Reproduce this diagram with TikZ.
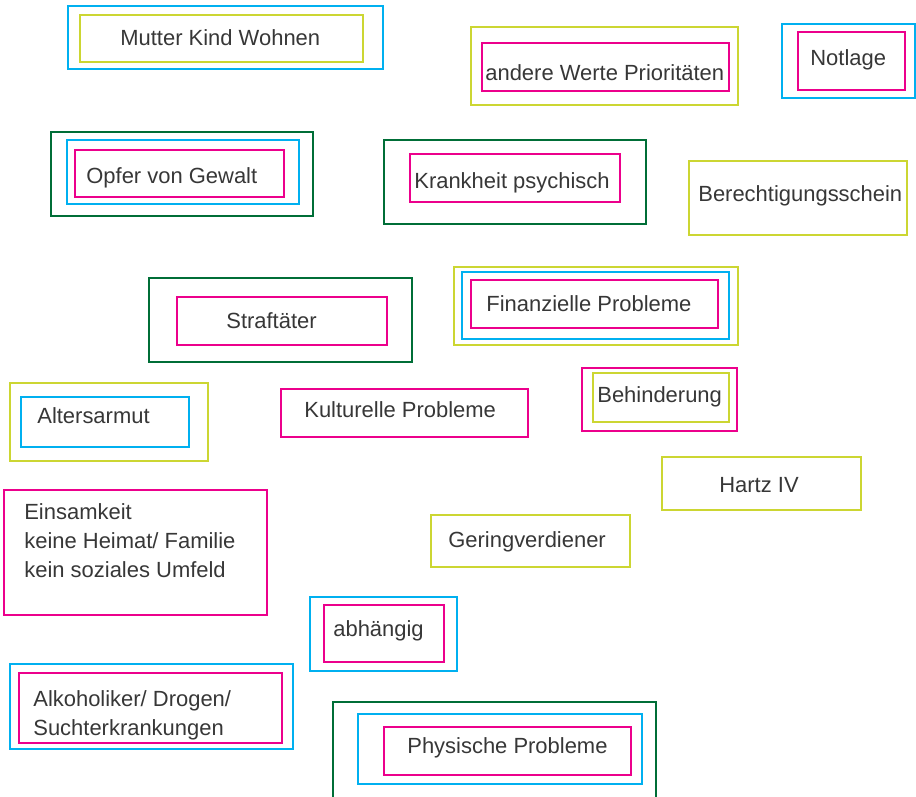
\documentclass[tikz,border=0pt]{standalone}
\usepackage{fontspec}
\setmainfont{Liberation Sans}
\definecolor{cyanline}{RGB}{0,176,240}
\definecolor{limeline}{RGB}{204,214,50}
\definecolor{pinkline}{RGB}{236,0,140}
\definecolor{greenline}{RGB}{0,110,55}
\definecolor{textgray}{RGB}{55,55,55}

\begin{document}
\begin{tikzpicture}[x=0.02cm,y=-0.02cm,
    box/.style={line width=1.1pt},
    lbl/.style={anchor=base west,inner sep=0pt,text=textgray,align=left,
      font=\fontsize{12.5}{16.3}\selectfont}]
  \useasboundingbox (0,0) rectangle (916,796);
  % frames, one loop per colour
  \foreach \xa/\ya/\xb/\yb in {68/6/383/69,67/140/299/204,782/24/915/98,462/272/729/339,
      21/397/189/447,310/597/457/671,10/664/293/749,358/714/642/784}{
    \draw[box,cyanline] (\xa,\ya) rectangle (\xb,\yb);
  }
  \foreach \xa/\ya/\xb/\yb in {80/15/363/62,471/27/738/105,689/161/907/235,454/267/738/345,
      10/383/208/461,593/373/729/422,662/457/861/510,431/515/630/567}{
    \draw[box,limeline] (\xa,\ya) rectangle (\xb,\yb);
  }
  \foreach \xa/\ya/\xb/\yb in {75/150/284/197,410/154/620/202,482/43/729/91,798/32/905/90,
      177/297/387/345,471/280/718/328,281/389/528/437,582/368/737/431,
      4/490/267/615,324/605/444/662,19/673/282/743,384/727/631/775}{
    \draw[box,pinkline] (\xa,\ya) rectangle (\xb,\yb);
  }
  \foreach \xa/\ya/\xb/\yb in {51/132/313/216,384/140/646/224,149/278/412/362,333/702/656/800}{
    \draw[box,greenline] (\xa,\ya) rectangle (\xb,\yb);
  }
  % labels (multi-line ones sit on their last baseline)
  \node[lbl] (mutter) at (120,45) {Mutter Kind Wohnen};
  \node[lbl] (werte) at (485,80) {andere Werte Prioritäten};
  \node[lbl] (notlage) at (810,65) {Notlage};
  \node[lbl] (opfer) at (86,183) {Opfer von Gewalt};
  \node[lbl] (krank) at (414,188) {Krankheit psychisch};
  \node[lbl] (schein) at (698,201) {Berechtigungsschein};
  \node[lbl] (straf) at (226,328) {Straftäter};
  \node[lbl] (finanz) at (486,311) {Finanzielle Probleme};
  \node[lbl] (alter) at (37,423) {Altersarmut};
  \node[lbl] (kultur) at (304,417) {Kulturelle Probleme};
  \node[lbl] (behind) at (597,402) {Behinderung};
  \node[lbl] (hartz) at (719,492) {Hartz IV};
  \node[lbl] (gering) at (448,547) {Geringverdiener};
  \node[lbl] (einsam) at (24,577) {Einsamkeit\\keine Heimat/ Familie\\kein soziales Umfeld};
  \node[lbl] (abh) at (333,636) {abhängig};
  \node[lbl] (sucht) at (33,735) {Alkoholiker/ Drogen/\\Suchterkrankungen};
  \node[lbl] (physis) at (407,753) {Physische Probleme};
\end{tikzpicture}
\end{document}
